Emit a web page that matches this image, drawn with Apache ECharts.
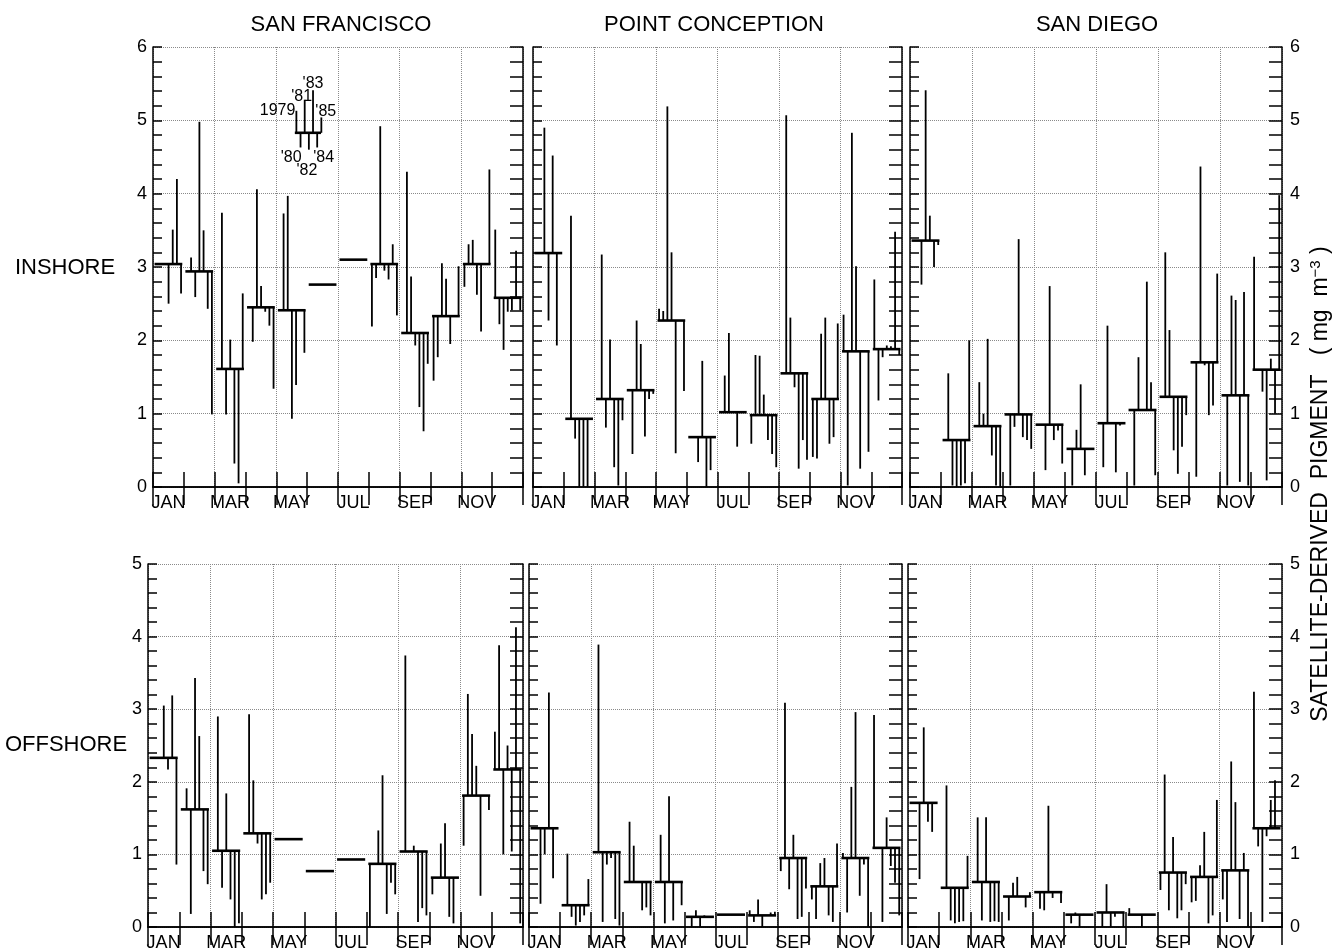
<!DOCTYPE html>
<html>
<head>
<meta charset="utf-8">
<title>Satellite-derived pigment, monthly means by year</title>
<script src="https://cdn.jsdelivr.net/npm/echarts@6/dist/echarts.min.js"></script>
<style>
  html, body { margin: 0; padding: 0; background: #fff; }
  #chart { width: 1336px; height: 952px; }
</style>
</head>
<body>
<div id="chart"></div>
<script>
// ---------------------------------------------------------------------------
// Data: monthly mean pigment (mg m^-3) and the individual yearly values
// (1979 .. 1985, one slot per year; null = no data for that year/month).
// ---------------------------------------------------------------------------
const months = ['JAN', 'FEB', 'MAR', 'APR', 'MAY', 'JUN', 'JUL', 'AUG', 'SEP', 'OCT', 'NOV', 'DEC'];
const stations = ['SAN FRANCISCO', 'POINT CONCEPTION', 'SAN DIEGO'];
const zones = ['INSHORE', 'OFFSHORE'];
const inshoreTicks = [0, 6];
const offshoreTicks = [0, 5];

// San Francisco, inshore
const sfInMean = [3.04, 2.94, 1.61, 2.45, 2.41, 2.76, 3.10, 3.04, 2.10, 2.33, 3.04, 2.58];
const sfInYears = [
  [null, null, null, 2.50, 3.51, 4.20, 2.64],
  [null, 3.13, 2.59, 4.98, 3.50, 2.43, 0.99],
  [null, 3.74, 0.99, 2.01, 0.32, 0.05, 2.64],
  [null, 1.98, 4.06, 2.74, 2.39, 2.20, 1.34],
  [null, 3.73, 3.97, 0.93, 1.39, null, 1.83],
  [null, null, null, null, null, null, null],
  [null, null, null, null, null, null, null],
  [2.19, 2.85, 4.92, 2.95, 2.83, 3.31, 2.34],
  [null, 4.30, 2.87, 1.93, 1.09, 0.76, 1.68],
  [1.45, 1.77, 3.05, 2.84, 1.95, null, 3.01],
  [2.73, 3.31, 3.37, 2.62, 2.12, null, 4.33],
  [3.51, 2.22, 1.87, 2.39, 2.41, 3.22, 2.41]
];

// Point Conception, inshore
const pcInMean = [3.19, 0.93, 1.20, 1.32, 2.27, 0.68, 1.02, 0.98, 1.55, 1.20, 1.85, 1.88];
const pcInYears = [
  [null, null, 4.90, 2.27, 4.52, 1.93, null],
  [null, 3.70, 0.66, 0.00, 0.00, 0.00, null],
  [null, 3.17, 0.81, 2.01, 0.27, 0.02, 0.91],
  [null, 0.45, 2.27, 1.95, 0.69, 1.20, 1.27],
  [2.43, 2.40, 5.19, 3.20, 0.46, null, 1.31],
  [null, null, 0.34, 1.72, 0.00, 0.23, null],
  [null, 1.52, 2.10, null, 0.55, null, null],
  [0.59, 1.80, 1.79, 1.26, 0.64, 0.45, 0.27],
  [null, 5.07, 2.31, 1.36, 0.25, 0.64, 0.37],
  [0.41, 0.39, 2.09, 2.31, 0.59, 0.68, 2.23],
  [2.35, 0.02, 4.83, 3.01, 0.25, null, 0.48],
  [2.83, 1.18, 1.77, 1.93, 1.92, 3.48, 1.80]
];

// San Diego, inshore
const sdInMean = [3.36, 0.64, 0.83, 0.99, 0.85, 0.52, 0.87, 1.05, 1.23, 1.70, 1.25, 1.60];
const sdInYears = [
  [null, null, 2.76, 5.41, 3.70, 3.00, 3.30],
  [null, 1.55, 0.02, 0.00, 0.02, 0.05, 2.00],
  [null, 1.43, 1.00, 2.02, 0.43, 0.02, 0.00],
  [null, 0.02, 0.82, 3.38, 0.68, 0.64, 0.52],
  [null, null, 0.23, 2.74, 0.64, 0.77, 0.32],
  [null, 0.02, 0.78, 1.40, 0.16, null, null],
  [null, 0.27, 2.20, null, 0.20, 0.84, null],
  [null, 0.02, 1.77, null, 2.80, 1.43, 0.16],
  [null, 3.20, 2.14, 0.50, 0.18, 0.55, 0.98],
  [null, 0.14, 4.37, 1.66, 0.98, 1.11, 2.91],
  [null, 0.02, 2.61, 2.55, 0.07, 2.66, 0.02],
  [3.14, null, 1.30, 0.09, 1.75, 1.00, 3.98]
];

// San Francisco, offshore
const sfOffMean = [2.33, 1.62, 1.05, 1.29, 1.21, 0.77, 0.93, 0.87, 1.04, 0.68, 1.81, 2.17];
const sfOffYears = [
  [null, null, null, 3.05, 2.17, 3.19, 0.86],
  [null, 1.91, 0.18, 3.43, 2.63, 0.77, 0.59],
  [null, 2.90, 0.54, 1.84, 0.38, 0.00, 0.05],
  [null, 2.93, 2.02, 1.15, 0.38, 0.45, 0.61],
  [null, null, null, null, null, null, null],
  [null, null, null, null, null, null, null],
  [null, null, null, null, null, null, null],
  [0.00, null, 1.33, 2.09, 0.18, 0.61, 0.45],
  [null, 3.74, null, 1.12, 0.07, 0.26, 0.16],
  [0.45, null, 1.15, 1.43, 0.14, 0.05, null],
  [1.12, 3.21, 2.66, 2.22, 0.43, null, 1.61],
  [2.69, 3.88, 1.00, 2.50, 1.04, 4.13, 0.05]
];

// Point Conception, offshore
const pcOffMean = [1.36, 0.30, 1.03, 0.62, 0.62, 0.14, 0.17, 0.16, 0.95, 0.56, 0.95, 1.09];
const pcOffYears = [
  [null, null, 0.32, 1.00, 3.23, 0.67, null],
  [null, 1.01, 0.14, 0.02, 0.07, 0.16, 0.66],
  [null, 3.89, 0.07, 0.86, 0.95, 0.11, 0.02],
  [null, 1.45, 1.12, null, 0.23, 0.27, 0.16],
  [null, 1.27, 0.05, 1.80, 0.09, null, 0.30],
  [null, 0.00, 0.23, 0.00, 0.16, null, null],
  [null, null, null, null, null, null, null],
  [0.23, 0.07, 0.38, 0.00, null, 0.20, 0.21],
  [0.77, 3.09, 0.52, 1.27, 0.11, 0.14, 0.53],
  [0.38, 0.11, 0.88, 0.95, 0.16, 0.07, 1.15],
  [1.02, 0.20, 1.93, 2.96, 0.43, 0.86, 0.00],
  [2.92, null, 0.07, 1.51, 0.84, 0.61, 0.16]
];

// San Diego, offshore
const sdOffMean = [1.71, 0.54, 0.62, 0.42, 0.48, 0.17, 0.20, 0.17, 0.75, 0.69, 0.78, 1.36];
const sdOffYears = [
  [null, null, 0.66, 2.75, 1.45, 1.31, null],
  [null, 1.95, 0.09, 0.05, 0.07, 0.08, 0.98],
  [null, 1.51, 0.09, 1.51, 0.07, 0.08, 0.07],
  [null, 0.09, 0.61, 0.69, null, 0.27, 0.48],
  [null, 0.25, 0.23, 1.67, 0.40, null, 0.33],
  [null, 0.05, 0.20, 0.00, 0.18, null, null],
  [null, 0.00, 0.59, 0.00, 0.14, null, 0.00],
  [0.26, null, null, 0.00, null, null, null],
  [0.51, 2.10, 0.23, 1.24, 0.12, 0.23, 0.59],
  [0.34, 0.36, 0.85, 1.31, 0.05, 0.16, 1.75],
  [0.38, 0.07, 2.28, 1.72, 0.11, 1.02, 0.00],
  [3.24, 1.11, 0.07, 1.25, 1.75, 2.02, null]
];

// Key showing which slot in a month belongs to which year
const keyYears = ['1979', "'80", "'81", "'82", "'83", "'84", "'85"];
const keyEnds = [5.13, 4.63, 5.28, 4.60, 5.41, 4.63, 5.04];
const keyMean = 4.83;
const keyMonth = 4.6;   // month position (in month units) where the key sits

// ---------------------------------------------------------------------------
// Layout and style
// ---------------------------------------------------------------------------
const FONT = '"Liberation Sans", Arial, Helvetica, sans-serif';
const INK = '#000';
const GRID_DOT = '#8a8a8a';

// position of each year's line inside a month, in month units
const SLOT0 = 0.10, SLOT_STEP = 0.135;
const BAR_START = 0.05, BAR_END = 0.95;

const panels = [
  { box: { left: 153, top: 47, width: 370, height: 440 }, ticks: inshoreTicks, mean: sfInMean, years: sfInYears, leftLabels: true, rightLabels: false },
  { box: { left: 533, top: 47, width: 369, height: 440 }, ticks: inshoreTicks, mean: pcInMean, years: pcInYears, leftLabels: false, rightLabels: false },
  { box: { left: 910, top: 47, width: 372, height: 440 }, ticks: inshoreTicks, mean: sdInMean, years: sdInYears, leftLabels: false, rightLabels: true },
  { box: { left: 148, top: 564, width: 375, height: 364 }, ticks: offshoreTicks, mean: sfOffMean, years: sfOffYears, leftLabels: true, rightLabels: false },
  { box: { left: 529, top: 564, width: 373, height: 364 }, ticks: offshoreTicks, mean: pcOffMean, years: pcOffYears, leftLabels: false, rightLabels: false },
  { box: { left: 908, top: 564, width: 374, height: 364 }, ticks: offshoreTicks, mean: sdOffMean, years: sdOffYears, leftLabels: false, rightLabels: true }
];

// where each key label sits relative to the end of its line
const keyLabelPlacement = [
  { dx: -1, dy: 0, align: 'right', va: 'middle' },
  { dx: 1, dy: 2, align: 'right', va: 'top' },
  { dx: -3, dy: -3, align: 'center', va: 'middle' },
  { dx: -2, dy: 13, align: 'center', va: 'top' },
  { dx: 0, dy: 1, align: 'center', va: 'bottom' },
  { dx: -4, dy: 2, align: 'left', va: 'top' },
  { dx: -6, dy: -6, align: 'left', va: 'middle' }
];

const axisLineStyle = { color: INK, width: 1.5 };
const dotted = { type: 'dotted', color: GRID_DOT, width: 1 };

const grid = [], xAxis = [], yAxis = [], series = [];

panels.forEach((p, g) => {
  grid.push(Object.assign({ containLabel: false }, p.box));
  const yMin = p.ticks[0], yMax = p.ticks[1];

  // bottom month axis: labels on every other month, ticks at month boundaries
  xAxis.push({
    type: 'category', gridIndex: g, data: months, position: 'bottom',
    boundaryGap: true, z: 3,
    axisLine: { show: true, lineStyle: axisLineStyle },
    axisTick: { show: true, inside: true, length: 15, interval: 0, lineStyle: axisLineStyle },
    axisLabel: { show: true, interval: 1, color: INK, fontSize: 18, fontFamily: FONT, margin: 7 },
    splitLine: { show: false }
  });
  // top month axis: ticks only
  xAxis.push({
    type: 'category', gridIndex: g, data: months, position: 'top',
    boundaryGap: true, z: 3,
    axisLine: { show: true, lineStyle: axisLineStyle },
    axisTick: { show: true, inside: true, length: 18, interval: 0, lineStyle: axisLineStyle },
    axisLabel: { show: false },
    splitLine: { show: false }
  });
  // continuous month scale: places the marks and draws the dotted
  // vertical guides every second month
  xAxis.push({
    type: 'value', gridIndex: g, min: 0, max: 12, interval: 2, position: 'bottom', z: 0,
    axisLine: { show: false }, axisTick: { show: false }, axisLabel: { show: false },
    splitLine: { show: true, lineStyle: dotted }
  });

  yAxis.push({
    type: 'value', gridIndex: g, min: yMin, max: yMax, interval: 1, position: 'left', z: 3,
    axisLine: { show: true, lineStyle: axisLineStyle },
    axisTick: { show: true, inside: true, length: 9, lineStyle: axisLineStyle },
    minorTick: { show: true, splitNumber: 5, length: 9, lineStyle: axisLineStyle },
    axisLabel: { show: p.leftLabels, color: INK, fontSize: 18, fontFamily: FONT, margin: 6 },
    splitLine: { show: true, lineStyle: dotted }
  });
  yAxis.push({
    type: 'value', gridIndex: g, min: yMin, max: yMax, interval: 1, position: 'right', z: 3,
    axisLine: { show: true, lineStyle: axisLineStyle },
    axisTick: { show: true, inside: true, length: 13, lineStyle: axisLineStyle },
    minorTick: { show: true, splitNumber: 5, length: 13, lineStyle: axisLineStyle },
    axisLabel: { show: p.rightLabels, color: INK, fontSize: 18, fontFamily: FONT, margin: 8 },
    splitLine: { show: false }
  });

  const years = p.years;
  series.push({
    type: 'custom',
    xAxisIndex: 3 * g + 2,
    yAxisIndex: 2 * g,
    silent: true,
    z: 4,
    data: p.mean.map((v, i) => [i, v]),
    renderItem: function (params, api) {
      const m = api.value(0);
      const mean = api.value(1);
      const children = [];
      const a = api.coord([m + BAR_START, mean]);
      const b = api.coord([m + BAR_END, mean]);
      children.push({
        type: 'line',
        shape: { x1: a[0], y1: a[1], x2: b[0], y2: b[1] },
        style: { stroke: INK, lineWidth: 2.6 }
      });
      years[params.dataIndex].forEach((v, k) => {
        if (v === null) return;
        const x = m + SLOT0 + SLOT_STEP * k;
        const p0 = api.coord([x, mean]);
        const p1 = api.coord([x, v]);
        children.push({
          type: 'line',
          shape: { x1: p0[0], y1: p0[1], x2: p1[0], y2: p1[1] },
          style: { stroke: INK, lineWidth: 1.8 }
        });
      });
      return { type: 'group', children: children };
    }
  });
});

// year key drawn inside the San Francisco inshore panel
series.push({
  type: 'custom',
  xAxisIndex: 2,
  yAxisIndex: 0,
  silent: true,
  z: 4,
  data: keyEnds.map((v, i) => [i, v]),
  renderItem: function (params, api) {
    const i = api.value(0);
    const end = api.value(1);
    const x = keyMonth + 0.05 + SLOT_STEP * i;
    const p0 = api.coord([x, keyMean]);
    const p1 = api.coord([x, end]);
    const place = keyLabelPlacement[i];
    const children = [
      { type: 'line', shape: { x1: p0[0], y1: p0[1], x2: p1[0], y2: p1[1] }, style: { stroke: INK, lineWidth: 1.8 } },
      {
        type: 'text',
        x: p1[0] + place.dx, y: p1[1] + place.dy,
        style: { text: keyYears[i], fill: INK, fontSize: 16, fontFamily: FONT, align: place.align, verticalAlign: place.va }
      }
    ];
    if (i === 0) {
      const a = api.coord([keyMonth, keyMean]);
      const b = api.coord([keyMonth + 0.85, keyMean]);
      children.push({ type: 'line', shape: { x1: a[0], y1: a[1], x2: b[0], y2: b[1] }, style: { stroke: INK, lineWidth: 2.6 } });
    }
    return { type: 'group', children: children };
  }
});

// column and row headings, and the vertical quantity label
const graphic = [];
const stationCentres = [341, 714, 1097];
stations.forEach((s, i) => {
  graphic.push({
    type: 'text', x: stationCentres[i], y: 25,
    style: { text: s, fill: INK, fontSize: 22, fontFamily: FONT, align: 'center', verticalAlign: 'middle' }
  });
});
const zoneCentres = [[65, 268], [66, 745]];
zones.forEach((z, i) => {
  graphic.push({
    type: 'text', x: zoneCentres[i][0], y: zoneCentres[i][1],
    style: { text: z, fill: INK, fontSize: 22, fontFamily: FONT, align: 'center', verticalAlign: 'middle' }
  });
});
graphic.push({
  type: 'text', x: 1321, y: 484, rotation: Math.PI / 2,
  style: {
    text: 'SATELLITE-DERIVED  PIGMENT   ( mg  m{sup|−3} )',
    fill: INK, fontSize: 23, fontFamily: FONT, align: 'center', verticalAlign: 'middle',
    rich: { sup: { fontSize: 15, fontFamily: FONT, fill: INK, verticalAlign: 'top', lineHeight: 26 } }
  }
});

const chart = echarts.init(document.getElementById('chart'), null, { renderer: 'canvas' });
chart.setOption({
  backgroundColor: '#fff',
  animation: false,
  textStyle: { fontFamily: FONT, color: INK },
  grid: grid,
  xAxis: xAxis,
  yAxis: yAxis,
  series: series,
  graphic: graphic
});
</script>
</body>
</html>
